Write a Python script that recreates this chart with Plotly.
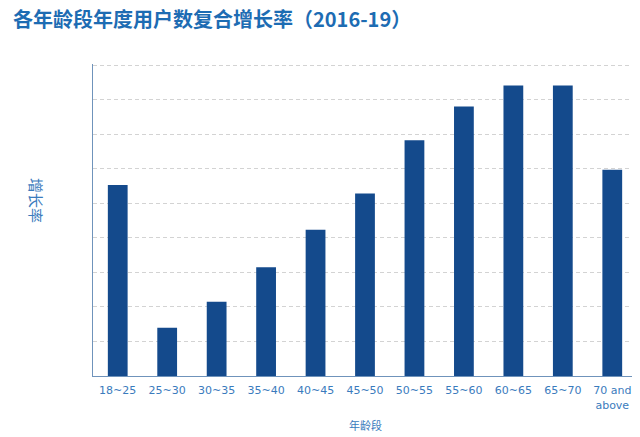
import plotly.graph_objects as go

age_groups = ["18~25", "25~30", "30~35", "35~40", "40~45", "45~50",
              "50~55", "55~60", "60~65", "65~70", "70 and<br>above"]
growth = [5.53, 1.40, 2.15, 3.15, 4.23, 5.28, 6.82, 7.80, 8.41, 8.41, 5.97]

bar_color = "#144a8c"
text_blue = "#3a7bbd"

# page body has an 8px margin, so the figure is a bit smaller than the window
W, H = 632, 429

fig = go.Figure()
fig.add_trace(go.Bar(x=age_groups, y=growth, marker_color=bar_color,
                     marker_line_width=0))

fig.update_layout(
    width=W, height=H,
    margin={"l": 85, "r": 3, "t": 56, "b": 61, "autoexpand": False},
    paper_bgcolor="white", plot_bgcolor="white",
    bargap=0.6,
    showlegend=False,
    title=dict(text="<b>各年龄段年度用户数复合增长率（2016-19）</b>",
               x=5/W, xanchor="left", y=1-12/H, yanchor="middle",
               font=dict(family="Noto Sans CJK SC", size=20, color="#1d6cb3")),
    font=dict(family="DejaVu Sans", color=text_blue),
)
fig.update_xaxes(showline=True, linecolor="#6f93bb", linewidth=1,
                 showgrid=False, ticks="", automargin=False,
                 ticklabelstandoff=4,
                 tickfont=dict(size=11, color=text_blue))
fig.update_yaxes(range=[0, 9.03], tickvals=list(range(1, 10)),
                 showticklabels=False, ticks="",
                 showline=True, linecolor="#6f93bb", linewidth=1,
                 gridcolor="#d3d3d3", griddash="4px,3px", gridwidth=1,
                 zeroline=False, automargin=False)

fig.add_annotation(text="年龄段", xref="paper", yref="paper", x=0.5, y=-49/312,
                   showarrow=False, yanchor="middle",
                   font=dict(family="Noto Sans CJK SC", size=11, color=text_blue))
fig.add_annotation(text="增长率", xref="paper", yref="paper", x=-56/544, y=176/312,
                   showarrow=False, textangle=90, xanchor="center", yanchor="middle",
                   font=dict(family="Noto Sans CJK SC", size=15, color=text_blue))

fig.write_html("out.html")
